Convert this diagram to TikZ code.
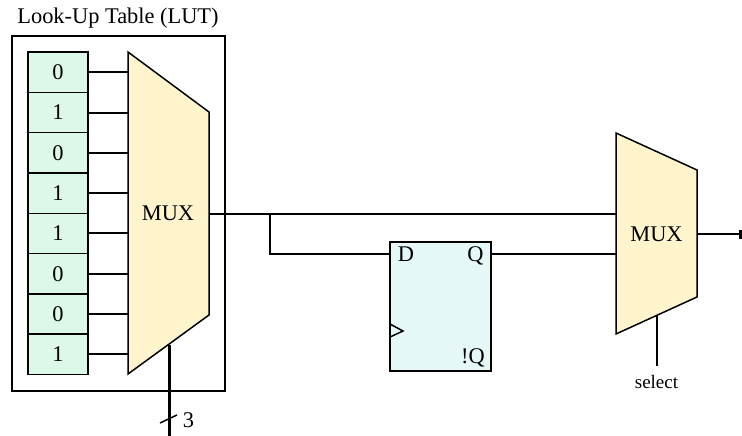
\documentclass[tikz,border=0pt]{standalone}
\usepackage{fontspec}
\setmainfont{Liberation Serif}
\definecolor{cellc}{HTML}{DCF8E8}
\definecolor{muxc}{HTML}{FFF4CC}
\definecolor{ffc}{HTML}{E6F7F7}
\tikzset{
  wire/.style={draw=black,line width=1.5pt},
  thickwire/.style={draw=black,line width=3pt},
  cellbox/.style={draw=black,fill=cellc,line width=1.5pt,minimum width=60pt,minimum height=40.3pt,inner sep=0pt,outer sep=0pt,font=\fontsize{22.4}{24}\selectfont},
  muxshape/.style={draw=black,fill=muxc,line width=1.5pt,line join=miter},
  lbl/.style={inner sep=0pt,anchor=base,font=\fontsize{22.4}{24}\selectfont},
  small/.style={inner sep=0pt,anchor=base,font=\fontsize{19}{22}\selectfont},
}
\begin{document}
\begin{tikzpicture}[x=1pt,y=-1pt]
\useasboundingbox (0,0) rectangle (742,436);
\node[draw=black,line width=1.5pt,minimum width=213pt,minimum height=355pt,inner sep=0pt,outer sep=0pt] (lut) at (118.5,213.5) {};
\node[lbl] (lutlabel) at (118,24) {Look-Up Table (LUT)};
% cells
\foreach \v [count=\i from 0] in {0,1,0,1,1,0,0,1}{
  \node[cellbox] (c\i) at (58,72.2+40.3*\i) {\v};
}
% mux 1
\coordinate (m1a) at (128,52);
\coordinate (m1b) at (209,112);
\coordinate (m1c) at (209,315);
\coordinate (m1d) at (128,374);
\foreach \i/\y in {0/72,1/113,2/153,3/193,4/233,5/274,6/314,7/354}{
  \coordinate (in\i) at (128,\y);
  \draw[wire] (c\i.east |- in\i) -- (in\i);
}
\coordinate (sel1) at (169,344.5);
\coordinate (selend) at (169,436);
\draw[thickwire] (sel1) -- (selend);
\draw[muxshape] (m1a) -- (m1b) -- (m1c) -- (m1d) -- cycle;
\node[lbl] (mux1) at (168,220.5) {MUX};
\coordinate (t1) at (160,423);
\coordinate (t2) at (177,415);
\draw[wire] (t1) -- (t2);
\node[lbl] (three) at (188.5,427) {3};
% flip-flop
\node[draw=black,fill=ffc,line width=1.5pt,minimum width=101pt,minimum height=129pt,inner sep=0pt,outer sep=0pt,anchor=north west] (ff) at (390,242) {};
\node[lbl] (d) at (406,261) {D};
\node[lbl] (q) at (475.5,261) {Q};
\node[lbl] (nq) at (473,363) {!Q};
\coordinate (ck1) at (390,324);
\coordinate (ck2) at (403,331);
\coordinate (ck3) at (390,337);
\draw[wire] (ck1) -- (ck2) -- (ck3);
% mux 2
\coordinate (m2a) at (616,133);
\coordinate (m2b) at (697,170);
\coordinate (m2c) at (697,297);
\coordinate (m2d) at (616,334);
\coordinate (j1) at (270,214);
\coordinate (j2) at (270,254);
\coordinate (o1) at (209,214);
\coordinate (o2) at (616,214);
\coordinate (mi2) at (616,254);
\draw[wire] (o1) -- (o2);
\draw[wire] (j1) -- (j2) -- (ff.west |- j2);
\draw[wire] (ff.east |- mi2) -- (mi2);
\draw[muxshape] (m2a) -- (m2b) -- (m2c) -- (m2d) -- cycle;
\node[lbl] (mux2) at (656.5,241.5) {MUX};
\coordinate (out1) at (697,234);
\coordinate (out2) at (739,234);
\coordinate (out3) at (742,234);
\draw[wire] (out1) -- (out2);
\draw[line width=9pt] (out2) -- (out3);
\coordinate (sel2) at (657,315.5);
\coordinate (sel2e) at (657,366);
\draw[wire] (sel2) -- (sel2e);
\node[small] (select) at (656.5,388.5) {select};
\end{tikzpicture}
\end{document}
